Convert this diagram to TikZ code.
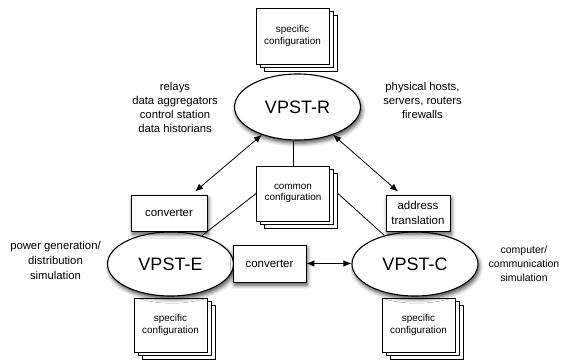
\documentclass[tikz,border=0pt]{standalone}
\usepackage{fontspec}
\setmainfont{Liberation Sans}
\usetikzlibrary{arrows.meta,shapes.geometric,shadows.blur,calc}

% a stack of three pages: name, x, y, width, height, text
\newcommand\pagestack[6]{%
  \node[cfgpage, minimum width=#4, minimum height=#5] (#1-3) at (#2+8,#3+7) {};
  \node[cfgpage, minimum width=#4, minimum height=#5] (#1-2) at (#2+4,#3+3.5) {};
  \node[cfgpage, minimum width=#4, minimum height=#5] (#1) at (#2,#3) {#6};
}

\begin{document}
\begin{tikzpicture}[x=1pt,y=-1pt,
  every node/.style={inner sep=0pt, align=center},
  softshadow/.style={blur shadow={shadow xshift=1.5pt, shadow yshift=-3.2pt,
      shadow blur radius=4pt, shadow opacity=70}},
  vpst/.style={ellipse, draw, line width=1.1pt, fill=white,
      minimum width=126pt, minimum height=65pt,
      font=\fontsize{18}{20}\selectfont, softshadow},
  box/.style={rectangle, draw, line width=0.9pt, fill=white,
      font=\fontsize{11.5}{15}\selectfont, softshadow},
  cfgpage/.style={rectangle, draw, line width=0.8pt, fill=white,
      font=\fontsize{9.9}{11.5}\selectfont},
  side/.style={font=\fontsize{11.3}{14}\selectfont},
  tip/.style={Latex[length=8pt,width=6.5pt]},
  arr/.style={{Latex[length=8pt,width=6.5pt]}-{Latex[length=8pt,width=6.5pt]},
      line width=0.8pt},
  link/.style={line width=0.8pt}]

\useasboundingbox (0,0) rectangle (563,360);

% configuration stacks
\pagestack{top}{292.5}{36}{73}{56}{specific\\configuration}
\pagestack{cc}{293}{193.5}{73}{55}{common\\configuration}
\pagestack{se}{170.5}{325}{73}{54}{specific\\configuration}
\pagestack{sc}{418.5}{325}{73}{54}{specific\\configuration}

% the three simulators
\node[vpst, minimum height=66pt] (R) at (297.5,107) {VPST-R};
\node[vpst, minimum height=64pt] (E) at (170.5,264) {VPST-E};
\node[vpst, minimum height=64pt] (C) at (415,264) {VPST-C};

% adapters
\node[box, minimum width=76pt, minimum height=36pt] (c1) at (169,213) {converter};
\node[box, minimum width=64pt, minimum height=36pt] (addr) at (418,213) {address\\translation};
\node[box, minimum width=73pt, minimum height=37pt] (mc) at (269.5,263.5) {converter};

% descriptions
\node[side] (lt) at (175,107) {relays\\data aggregators\\control station\\data historians};
\node[side] (rt) at (422.5,100) {physical hosts,\\servers, routers\\firewalls};
\node[side, font=\fontsize{11.3}{15}\selectfont] (lb) at (55.5,260.5) {power generation/\\distribution\\simulation};
\node[side, font=\fontsize{10.5}{14}\selectfont] (rb) at (524,264) {computer/\\communication\\simulation};

% connections
\draw[arr] ([xshift=26pt,yshift=3pt]c1.north) -- (R.218);
\draw[arr] ([xshift=-20pt,yshift=3pt]addr.north) -- (R.322);
\draw[link] (cc.north) -- (cc.north |- R.south);
\draw[link] (cc.west) -- (E.42);
\draw[link] (cc-3.east |- cc.east) -- (C.137);
\draw[arr] (mc.east) -- (mc.east -| C.west);

\end{tikzpicture}
\end{document}
